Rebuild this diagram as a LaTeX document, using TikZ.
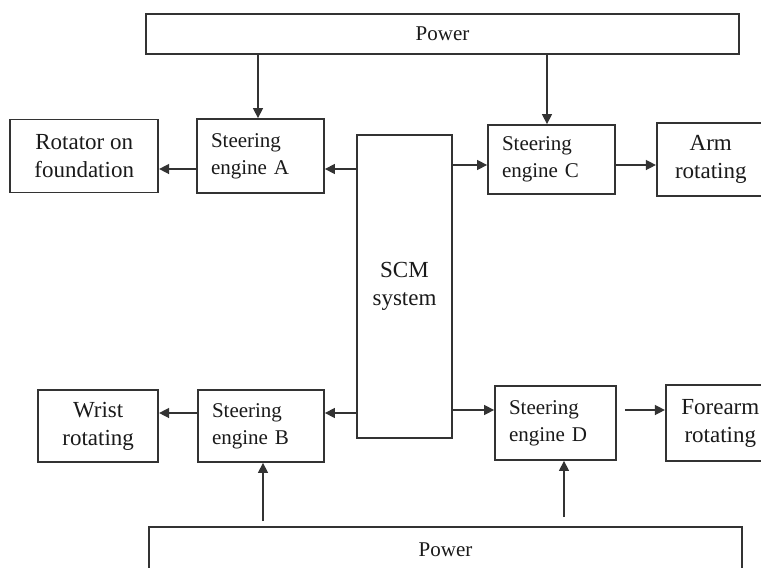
\documentclass[tikz,border=0pt]{standalone}
\usepackage{fontspec}
\setmainfont{Liberation Serif}
\usetikzlibrary{arrows.meta,positioning}
\definecolor{lineGrey}{HTML}{333333}
\definecolor{textGrey}{HTML}{1A1A1A}

\begin{document}
\begin{tikzpicture}[
  x=1pt,y=-1pt,
  box/.style={draw=lineGrey,line width=1.8pt,fill=white,inner sep=0pt,text=textGrey},
  bigbox/.style={box,align=center,font=\fontsize{23}{28}\selectfont},
  steerbox/.style={box,minimum height=74pt,text width=#1-28pt,minimum width=#1,align=left,font=\fontsize{21}{27}\selectfont},
  powerbox/.style={box,font=\fontsize{21}{25}\selectfont},
  flow/.style={-{Triangle[length=10pt,width=10pt]},line width=1.4pt,lineGrey}]
  \useasboundingbox (0,0) rectangle (761,568);
  \clip (0,0) rectangle (761,568);
  % central controller and supplies
  \node[bigbox,minimum width=95pt,minimum height=303pt] (scm) at (404.5,286.5) {SCM\\system};
  \node[powerbox,minimum width=593pt,minimum height=40pt] (powerTop) at (442.5,34) {Power};
  \node[powerbox,minimum width=593pt,minimum height=46pt] (powerBot) at (445.5,550) {Power};
  % steering engines
  \node[steerbox=127pt] (steerA) at (260.5,156) {Steering\\engine A};
  \node[steerbox=127pt,minimum height=69pt] (steerC) at (551.5,159.5) {Steering\\engine C};
  \node[steerbox=126pt,minimum height=72pt] (steerB) at (261,426) {Steering\\engine B};
  \node[steerbox=121pt] (steerD) at (555.5,423) {Steering\\engine D};
  % driven joints
  \node[bigbox,minimum width=148pt,minimum height=73pt,left=37pt of steerA] (rotator) {Rotator on\\foundation};
  \node[bigbox,minimum width=108pt,minimum height=73pt,right=40pt of steerC] (arm) {Arm\\rotating};
  \node[bigbox,minimum width=120pt,minimum height=72pt,left=38pt of steerB] (wrist) {Wrist\\rotating};
  \node[bigbox,minimum width=109pt,minimum height=76pt,right=48pt of steerD] (forearm) {Forearm\\rotating};
  % levels of the connectors
  \coordinate (rowA) at (0,169);
  \coordinate (rowC) at (0,165);
  \coordinate (rowB) at (0,413);
  \coordinate (rowD) at (0,410);
  \coordinate (colA) at (258,0);
  \coordinate (colC) at (547,0);
  \coordinate (colB) at (263,0);
  \coordinate (colD) at (564,0);
  \draw[flow] (scm.west |- rowA) -- (steerA.east |- rowA);
  \draw[flow] (steerA.west |- rowA) -- (rotator.east |- rowA);
  \draw[flow] (scm.east |- rowC) -- (steerC.west |- rowC);
  \draw[flow] (steerC.east |- rowC) -- (arm.west |- rowC);
  \draw[flow] (scm.west |- rowB) -- (steerB.east |- rowB);
  \draw[flow] (steerB.west |- rowB) -- (wrist.east |- rowB);
  \draw[flow] (scm.east |- rowD) -- (steerD.west |- rowD);
  \draw[flow,shorten <=8pt] (steerD.east |- rowD) -- (forearm.west |- rowD);
  \draw[flow] (powerTop.south -| colA) -- (steerA.north -| colA);
  \draw[flow] (powerTop.south -| colC) -- (steerC.north -| colC);
  \draw[flow,shorten <=5pt] (powerBot.north -| colB) -- (steerB.south -| colB);
  \draw[flow,shorten <=9pt] (powerBot.north -| colD) -- (steerD.south -| colD);
\end{tikzpicture}
\end{document}
